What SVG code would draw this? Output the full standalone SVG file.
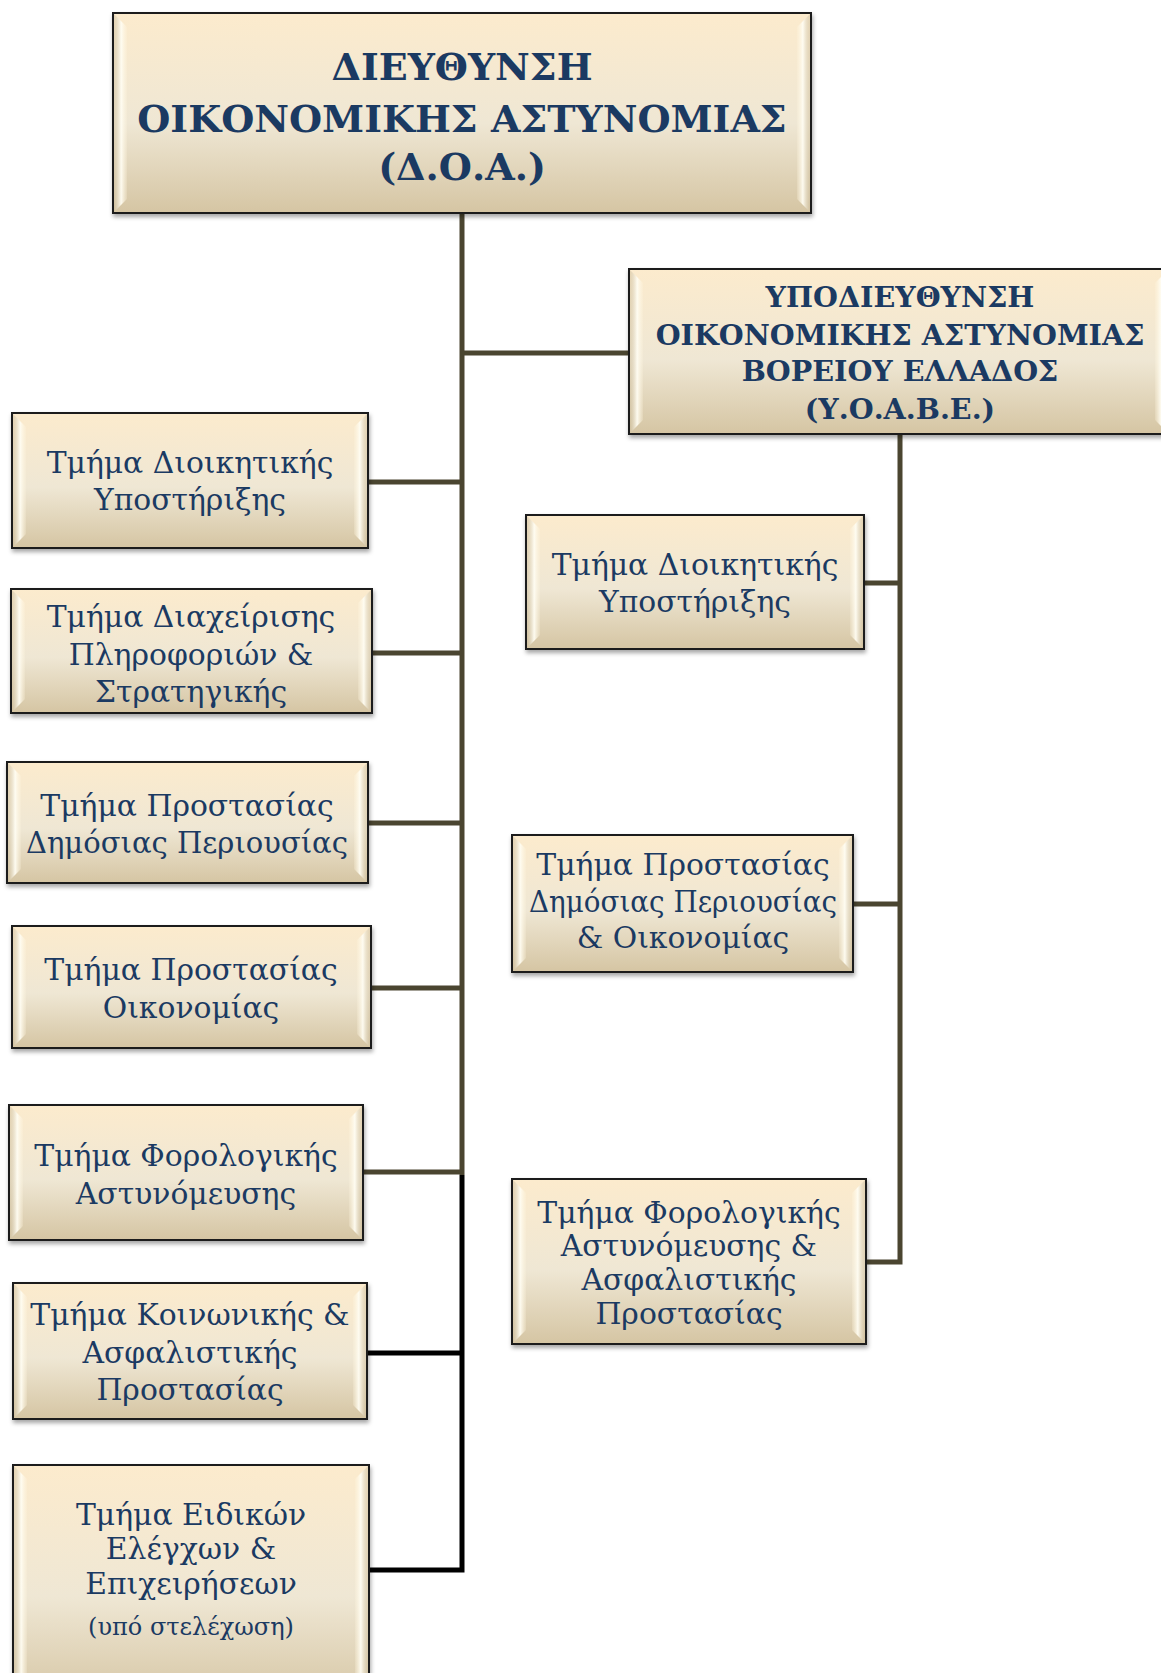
<svg xmlns="http://www.w3.org/2000/svg" width="1161" height="1673" viewBox="0 0 1161 1673">
<style>
.box{fill:url(#fillG);stroke:#1e1e1e;stroke-width:2;filter:url(#sh)}
.bl{fill:url(#bevL)}
.br{fill:url(#bevR)}
.t{font-family:"DejaVu Serif","Liberation Serif",serif;font-size:29.8px;fill:#1b3a62;text-anchor:middle}
.s{font-size:24px}
.h{font-family:"DejaVu Serif","Liberation Serif",serif;font-weight:bold;fill:#1b3a62;text-anchor:middle}
.c{fill:none;stroke:#4a4530;stroke-width:5;stroke-linejoin:miter}
.k{fill:none;stroke:#000;stroke-width:5;stroke-linejoin:miter}
</style>
<defs>
<linearGradient id="fillG" x1="0" y1="0" x2="0" y2="1">
<stop offset="0" stop-color="#fcebcd"/>
<stop offset="0.55" stop-color="#efe7d4"/>
<stop offset="1" stop-color="#d5c5a3"/>
</linearGradient>
<linearGradient id="bevL" x1="0" y1="0" x2="1" y2="0">
<stop offset="0" stop-color="#cdbd9b" stop-opacity="0.5"/>
<stop offset="0.55" stop-color="#fffdf3" stop-opacity="0.95"/>
<stop offset="1" stop-color="#fff6e0" stop-opacity="0.2"/>
</linearGradient>
<linearGradient id="bevR" x1="1" y1="0" x2="0" y2="0">
<stop offset="0" stop-color="#cdbd9b" stop-opacity="0.5"/>
<stop offset="0.55" stop-color="#fffdf3" stop-opacity="0.95"/>
<stop offset="1" stop-color="#fff6e0" stop-opacity="0.2"/>
</linearGradient>
<filter id="sh" x="-5%" y="-5%" width="110%" height="115%">
<feDropShadow dx="1" dy="3" stdDeviation="2" flood-color="#000" flood-opacity="0.35"/>
</filter>
</defs>
<rect width="1161" height="1673" fill="#fff"/>

<g id="connectors">
<path class="c" d="M462,213 V1175"/>
<path class="c" d="M462,353 H629"/>
<path class="c" d="M368,482 H462"/>
<path class="c" d="M372,653 H462"/>
<path class="c" d="M368,823 H462"/>
<path class="c" d="M371,988 H462"/>
<path class="c" d="M363,1172 H462"/>
<path class="k" d="M367,1353 H462"/>
<path class="k" d="M369,1570 H462 V1175"/>
<path class="c" d="M900,434 V1262 H866"/>
<path class="c" d="M864,583 H900"/>
<path class="c" d="M853,904 H900"/>
</g>

<g id="n-doa">
<rect class="box" x="113" y="13" width="698" height="200"/>
<polygon class="bl" points="114,14 127,27 127,199 114,212"/>
<polygon class="br" points="810,14 797,27 797,199 810,212"/>
<text class="h" font-size="38" x="462" y="80">ΔΙΕΥΘΥΝΣΗ</text>
<text class="h" font-size="38" x="462" y="132">ΟΙΚΟΝΟΜΙΚΗΣ ΑΣΤΥΝΟΜΙΑΣ</text>
<text class="h" font-size="38" x="462" y="180">(Δ.Ο.Α.)</text>
</g>

<g id="n-yoabe">
<rect class="box" x="629" y="269" width="540" height="165"/>
<polygon class="bl" points="630,270 643,283 643,420 630,433"/>
<polygon class="br" points="1168,270 1155,283 1155,420 1168,433"/>
<text class="h" font-size="28.6" x="900" y="307">ΥΠΟΔΙΕΥΘΥΝΣΗ</text>
<text class="h" font-size="28.6" x="900" y="345">ΟΙΚΟΝΟΜΙΚΗΣ ΑΣΤΥΝΟΜΙΑΣ</text>
<text class="h" font-size="28.6" x="900" y="381">ΒΟΡΕΙΟΥ ΕΛΛΑΔΟΣ</text>
<text class="h" font-size="28.6" x="900" y="419">(Υ.Ο.Α.Β.Ε.)</text>
</g>

<g id="n-l1">
<rect class="box" x="12" y="413" width="356" height="135"/>
<polygon class="bl" points="13,414 26,427 26,534 13,547"/>
<polygon class="br" points="367,414 354,427 354,534 367,547"/>
<text class="t" x="190" y="473">Τμήμα Διοικητικής</text>
<text class="t" x="190" y="510">Υποστήριξης</text>
</g>

<g id="n-l2">
<rect class="box" x="11" y="589" width="361" height="124"/>
<polygon class="bl" points="12,590 25,603 25,699 12,712"/>
<polygon class="br" points="371,590 358,603 358,699 371,712"/>
<text class="t" x="191" y="627">Τμήμα Διαχείρισης</text>
<text class="t" x="191" y="665">Πληροφοριών &amp;</text>
<text class="t" x="191" y="702">Στρατηγικής</text>
</g>

<g id="n-l3">
<rect class="box" x="7" y="762" width="361" height="121"/>
<polygon class="bl" points="8,763 21,776 21,869 8,882"/>
<polygon class="br" points="367,763 354,776 354,869 367,882"/>
<text class="t" x="187" y="816">Τμήμα Προστασίας</text>
<text class="t" x="187" y="853" textLength="322" lengthAdjust="spacingAndGlyphs">Δημόσιας Περιουσίας</text>
</g>

<g id="n-l4">
<rect class="box" x="12" y="926" width="359" height="122"/>
<polygon class="bl" points="13,927 26,940 26,1034 13,1047"/>
<polygon class="br" points="370,927 357,940 357,1034 370,1047"/>
<text class="t" x="191" y="980">Τμήμα Προστασίας</text>
<text class="t" x="191" y="1018">Οικονομίας</text>
</g>

<g id="n-l5">
<rect class="box" x="9" y="1105" width="354" height="135"/>
<polygon class="bl" points="10,1106 23,1119 23,1226 10,1239"/>
<polygon class="br" points="362,1106 349,1119 349,1226 362,1239"/>
<text class="t" x="186" y="1166">Τμήμα Φορολογικής</text>
<text class="t" x="186" y="1204">Αστυνόμευσης</text>
</g>

<g id="n-l6">
<rect class="box" x="13" y="1283" width="354" height="136"/>
<polygon class="bl" points="14,1284 27,1297 27,1405 14,1418"/>
<polygon class="br" points="366,1284 353,1297 353,1405 366,1418"/>
<text class="t" x="190" y="1325">Τμήμα Κοινωνικής &amp;</text>
<text class="t" x="190" y="1363">Ασφαλιστικής</text>
<text class="t" x="190" y="1400">Προστασίας</text>
</g>

<g id="n-l7">
<rect class="box" x="13" y="1465" width="356" height="240"/>
<polygon class="bl" points="14,1466 27,1479 27,1691 14,1704"/>
<polygon class="br" points="368,1466 355,1479 355,1691 368,1704"/>
<text class="t" x="191" y="1525">Τμήμα Ειδικών</text>
<text class="t" x="191" y="1559">Ελέγχων &amp;</text>
<text class="t" x="191" y="1594">Επιχειρήσεων</text>
<text class="t s" x="191" y="1635">(υπό στελέχωση)</text>
</g>

<g id="n-r1">
<rect class="box" x="526" y="515" width="338" height="134"/>
<polygon class="bl" points="527,516 540,529 540,635 527,648"/>
<polygon class="br" points="863,516 850,529 850,635 863,648"/>
<text class="t" x="695" y="575">Τμήμα Διοικητικής</text>
<text class="t" x="695" y="612">Υποστήριξης</text>
</g>

<g id="n-r2">
<rect class="box" x="512" y="835" width="341" height="137"/>
<polygon class="bl" points="513,836 526,849 526,958 513,971"/>
<polygon class="br" points="852,836 839,849 839,958 852,971"/>
<text class="t" x="683" y="875">Τμήμα Προστασίας</text>
<text class="t" x="683" y="912" textLength="308" lengthAdjust="spacingAndGlyphs">Δημόσιας Περιουσίας</text>
<text class="t" x="683" y="948">&amp; Οικονομίας</text>
</g>

<g id="n-r3">
<rect class="box" x="512" y="1179" width="354" height="165"/>
<polygon class="bl" points="513,1180 526,1193 526,1330 513,1343"/>
<polygon class="br" points="865,1180 852,1193 852,1330 865,1343"/>
<text class="t" x="689" y="1223">Τμήμα Φορολογικής</text>
<text class="t" x="689" y="1256">Αστυνόμευσης &amp;</text>
<text class="t" x="689" y="1290">Ασφαλιστικής</text>
<text class="t" x="689" y="1324">Προστασίας</text>
</g>
</svg>
